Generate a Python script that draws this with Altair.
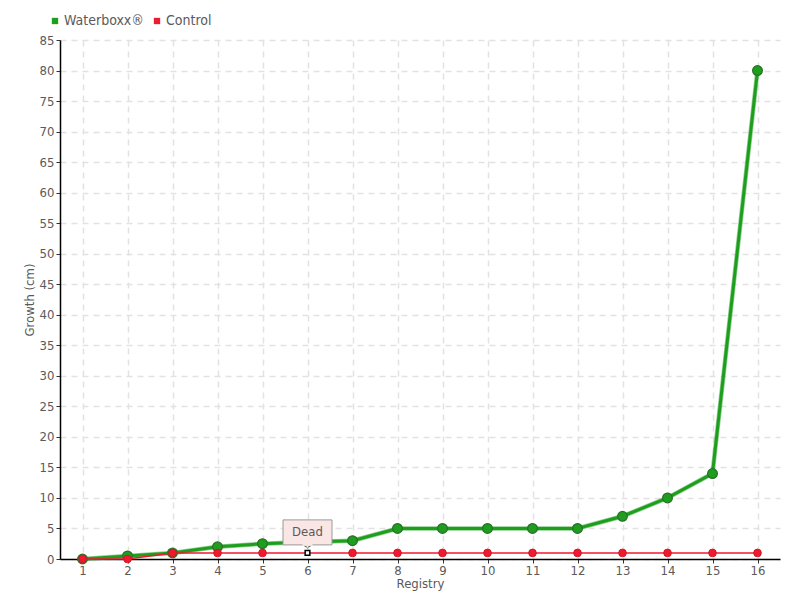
import altair as alt
import pandas as pd

registry = list(range(1, 17))
waterboxx = [0, 0.5, 1, 2, 2.5, 2.8, 3, 5, 5, 5, 5, 5, 7, 10, 14, 80]
control = [0, 0, 1, 1, 1, 1, 1, 1, 1, 1, 1, 1, 1, 1, 1, 1]
series_names = ["Waterboxx®", "Control"]
series_colors = ["#1d9e1d", "#ee1a2e"]
dead_registry = 6
dead_label = "Dead"
y_ticks = list(range(0, 90, 5))

FONT = "'DejaVu Sans Condensed', 'Liberation Sans Narrow', 'Roboto Condensed', 'Open Sans', sans-serif"
TXT = "#5a5a5a"

rows = []
for r, w, c in zip(registry, waterboxx, control):
    rows.append({"Registry": r, "Growth": w, "Series": series_names[0]})
    rows.append({"Registry": r, "Growth": c, "Series": series_names[1]})
df = pd.DataFrame(rows)

dead_df = pd.DataFrame({"Registry": [dead_registry],
                        "Growth": [control[registry.index(dead_registry)]],
                        "Label": [dead_label]})

x = alt.X("Registry:Q",
          scale=alt.Scale(domain=[0.5, 16.5], nice=False, zero=False),
          axis=alt.Axis(values=registry, format="d", title="Registry",
                        titleY=24, titleBaseline="middle",
                        tickSize=4, labelPadding=1, labelOverlap=False))
y = alt.Y("Growth:Q",
          scale=alt.Scale(domain=[0, 85], nice=False),
          axis=alt.Axis(values=y_ticks, title="Growth (cm)", tickSize=4, titlePadding=3,
                        labelPadding=2, labelOverlap=False))
color = alt.Color("Series:N", scale=alt.Scale(domain=series_names, range=series_colors),
                  legend=alt.Legend(orient="none", legendX=-12, legendY=-26, direction="horizontal",
                                    title=None, symbolType="square", symbolSize=40,
                                    symbolOpacity=1, symbolStrokeWidth=0,
                                    labelFontSize=14, labelFont=FONT, labelColor=TXT,
                                    columnPadding=6, symbolOffset=0, labelOffset=2))

base = alt.Chart(df).encode(x=x, y=y, color=color)
green = base.transform_filter(alt.datum.Series == series_names[0])
red = base.transform_filter(alt.datum.Series == series_names[1])

green_glow = green.mark_line(strokeWidth=4.5, color="#8fd08f", opacity=0.5)
green_line = green.mark_line(strokeWidth=3)
green_pts = green.mark_point(filled=True, size=95, opacity=1, stroke="#2b6e2b", strokeWidth=1.2,
                             fill="#1d9e1d")
red_line = red.mark_line(strokeWidth=1.5, color="#f4606e")
red_pts = red.transform_filter(alt.datum.Registry != dead_registry).mark_point(
    filled=True, size=60, opacity=1, fill="#ee1a2e", stroke="#c81424", strokeWidth=0.8)

dead_base = alt.Chart(dead_df).encode(x=x, y=y)
dead_marker = dead_base.mark_point(shape="square", size=22, filled=True, fill="white",
                                   stroke="black", strokeWidth=1.5, opacity=1)
dead_box = dead_base.mark_rect(width=49, height=25, fill="#fbe6e6", stroke="#9a9a9a",
                               strokeWidth=1, yOffset=-20.5)
dead_pointer = dead_base.mark_point(shape="triangle-down", size=40, filled=True, fill="#fbe6e6",
                                    stroke="#9a9a9a", strokeWidth=1, opacity=1, yOffset=-7)
dead_pointer_cover = dead_base.mark_rect(width=10, height=3, fill="#fbe6e6", yOffset=-8.5)
dead_text = dead_base.mark_text(text=dead_label, font=FONT, fontSize=13, color=TXT,
                                yOffset=-20.5, baseline="middle", align="center")

chart = alt.layer(
    green_glow, green_line, green_pts, red_line, red_pts,
    dead_marker, dead_pointer, dead_box, dead_pointer_cover, dead_text
).properties(
    width=720, height=519,
    autosize=alt.AutoSizeParams(type="none"),
    padding={"left": 52, "top": 32, "right": 8, "bottom": 33},
).configure_view(stroke=None).configure_axis(
    labelFont=FONT, titleFont=FONT, labelFontSize=13, titleFontSize=13,
    labelColor=TXT, titleColor=TXT, titleFontWeight="normal",
    domainColor="black", domainWidth=1.5, tickColor="#333333",
    gridColor="#e2e2e2", gridDash=[6, 5], gridWidth=1.5,
)

chart.save("out.html", embed_options={"renderer": "svg", "actions": False})
